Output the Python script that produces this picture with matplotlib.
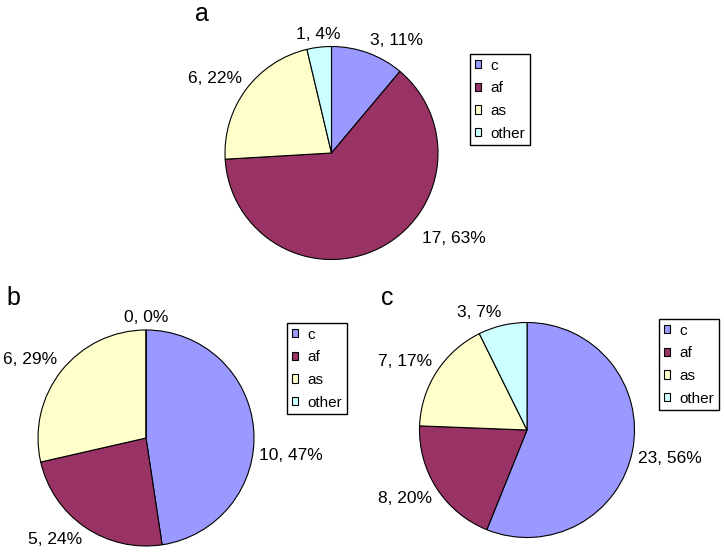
"""Three pie panels (a, b, c) with Excel-like labels and legends."""
import numpy as np
import matplotlib
matplotlib.use("Agg")
import matplotlib.pyplot as plt

plt.rcParams["font.family"] = ["Liberation Sans", "DejaVu Sans"]

W, H = 724, 558  # figure size in pixels

# data
categories = ["c", "af", "as", "other"]
colors = ["#9999FF", "#993366", "#FFFFCC", "#CCFFFF"]

counts_a = [3, 17, 6, 1]
pct_a = [11, 63, 22, 4]
counts_b = [10, 5, 6, 0]
pct_b = [47, 24, 29, 0]
counts_c = [23, 8, 7, 3]
pct_c = [56, 20, 17, 7]

# Excel nudges some labels away from the mid-angle (px, y down)
nudges = {("a", "af"): (40, -22), ("b", "c"): (0, 33)}


def draw_panel(fig, counts, pcts, title, cx, cy, r, leg_xy, title_xy, lab_dist=1.05):
    """Pie centered on (cx, cy) px with radius r px."""
    L = 1.35
    ax = fig.add_axes([(cx - L * r) / W, (H - cy - L * r) / H, 2 * L * r / W, 2 * L * r / H])
    wedges, _ = ax.pie(counts, colors=colors, startangle=90, counterclock=False,
                       radius=1, wedgeprops=dict(edgecolor="black", linewidth=0.8))
    ax.set_xlim(-L, L)
    ax.set_ylim(-L, L)
    ax.axis("off")

    # data labels "n, p%" placed with the near corner on the mid-angle ray
    for w, cat, n, p in zip(wedges, categories, counts, pcts):
        ang = np.deg2rad((w.theta1 + w.theta2) / 2)
        x, y = np.cos(ang) * lab_dist, np.sin(ang) * lab_dist
        ha = "left" if x > 0.15 else ("right" if x < -0.15 else "center")
        va = "bottom" if y > 0 else "top"
        dx, dy = nudges.get((title, cat), (0, 0))
        x += dx / r
        y -= dy / r
        ax.text(x, y, f"{n}, {p}%", ha=ha, va=va, fontsize=12.5, clip_on=False)

    leg = ax.legend(wedges, categories, loc="upper left",
                    bbox_to_anchor=(leg_xy[0] / W, 1 - leg_xy[1] / H),
                    bbox_transform=fig.transFigure, fancybox=False, framealpha=1,
                    edgecolor="black", fontsize=11, handlelength=0.45, handleheight=0.45,
                    handletextpad=0.6, labelspacing=0.57, borderpad=0.3, borderaxespad=0)
    leg.get_frame().set_linewidth(1.0)

    fig.text(title_xy[0] / W, 1 - title_xy[1] / H, title, fontsize=18, va="baseline")
    return ax


fig = plt.figure(figsize=(W / 100, H / 100), dpi=100)

draw_panel(fig, counts_a, pct_a, "a", 331.5, 153, 106.5, (470, 54), (195, 21))
draw_panel(fig, counts_b, pct_b, "b", 146, 438, 108, (287, 323), (6, 305))
draw_panel(fig, counts_c, pct_c, "c", 527, 430, 107.5, (659, 319), (381, 305))

fig.savefig("out.png", dpi=100)
plt.close(fig)
